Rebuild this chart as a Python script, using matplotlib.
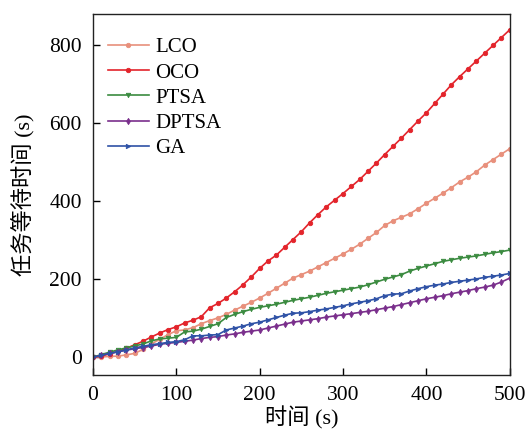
import numpy as np
import matplotlib
matplotlib.use("Agg")
from matplotlib import pyplot as plt

# time axis (s), one reading every 10 s
time_s = list(range(0, 501, 10))

lco = [0, 1, 2, 3, 6, 10, 20, 34, 46, 58, 68, 70, 76, 86, 94, 101, 110, 121, 131, 141,
       152, 164, 177, 190, 203, 212, 221, 232, 243, 254, 265, 277, 290, 305, 320, 338,
       350, 359, 368, 381, 395, 408, 421, 435, 450, 462, 476, 493, 507, 521, 535]
oco = [0, 3, 9, 15, 23, 32, 41, 52, 62, 71, 78, 88, 95, 104, 127, 138, 152, 168, 186, 206,
       228, 247, 262, 282, 302, 322, 345, 366, 386, 403, 420, 438, 456, 477, 498, 520,
       541, 562, 584, 606, 627, 651, 675, 699, 720, 740, 760, 780, 800, 820, 840]
ptsa = [0, 7, 13, 19, 24, 29, 34, 42, 47, 49, 51, 65, 67, 72, 79, 86, 102, 110, 117, 123,
        128, 132, 136, 141, 146, 150, 154, 159, 164, 168, 172, 176, 180, 186, 193, 200,
        206, 212, 221, 228, 234, 240, 246, 250, 254, 257, 260, 264, 268, 271, 275]
dptsa = [0, 5, 10, 14, 18, 22, 25, 29, 33, 36, 38, 41, 44, 48, 51, 53, 57, 60, 64, 67,
         70, 75, 80, 85, 90, 93, 96, 99, 103, 106, 109, 112, 115, 118, 122, 126,
         130, 135, 140, 145, 150, 154, 158, 163, 167, 171, 176, 180, 185, 193, 203]
ga = [0, 5, 10, 14, 19, 24, 28, 32, 35, 38, 40, 45, 55, 55, 57, 58, 70, 75, 80, 86,
      90, 96, 102, 108, 113, 114, 117, 121, 124, 128, 132, 137, 141, 145, 150, 158,
      162, 163, 170, 176, 181, 185, 188, 192, 195, 198, 201, 205, 208, 211, 215]

labels = ["LCO", "OCO", "PTSA", "DPTSA", "GA"]
series = [lco, oco, ptsa, dptsa, ga]
colors = ["#e8907c", "#e3242b", "#3b8b40", "#7a2f8c", "#2f52a6"]
markers = ["o", "o", "v", "d", ">"]

x_ticks = [0, 100, 200, 300, 400, 500]
y_ticks = [0, 200, 400, 600, 800]

serif = "Liberation Serif"
cjk = [serif, "Noto Sans CJK SC"]

fig = plt.figure(figsize=(5.25, 4.42), dpi=100)
ax = fig.add_axes([0.177, 0.152, 0.794, 0.816])

for vals, lab, col, mk in zip(series, labels, colors, markers):
    ax.plot(time_s, vals, color=col, marker=mk, markersize=3.2, linewidth=1.2,
            markeredgewidth=0.6, label=lab)

ax.set_xlim(0, 500)
ax.set_ylim(-45, 880)
ax.set_xticks(x_ticks)
ax.set_yticks(y_ticks)
ax.tick_params(direction="in", length=5, width=1, labelsize=15.5, pad=8,
               top=False, right=False)
for lbl in ax.get_xticklabels() + ax.get_yticklabels():
    lbl.set_fontfamily(serif)
for sp in ax.spines.values():
    sp.set_linewidth(1.0)
    sp.set_color("#222222")

ax.set_xlabel("时间 (s)", fontsize=16, family=cjk, labelpad=1)
ax.set_ylabel("任务等待时间 (s)", fontsize=16, family=cjk, labelpad=10)

leg = ax.legend(loc="upper left", bbox_to_anchor=(0.0, 0.975), frameon=False,
                prop={"family": serif, "size": 15}, handlelength=2.0,
                handletextpad=0.3, labelspacing=0.27, borderaxespad=0.3)

fig.savefig("out.png", dpi=100)
